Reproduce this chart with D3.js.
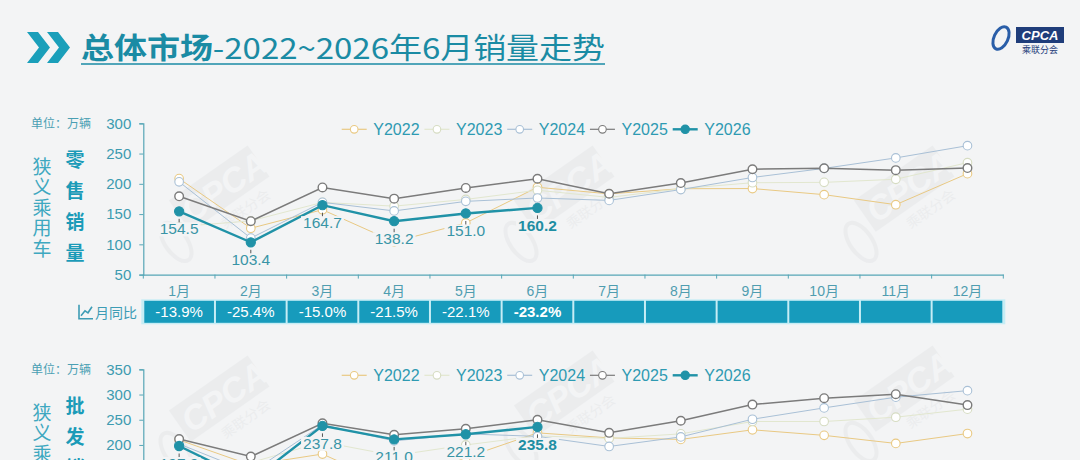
<!DOCTYPE html>
<html>
<head>
<meta charset="utf-8">
<script src="https://cdn.jsdelivr.net/npm/d3@7"></script>
<style>
  body { margin: 0; background: #f3f4f5; }
  svg { display: block; }
</style>
</head>
<body>
<script>
// ---- data ----
var months = ['1月', '2月', '3月', '4月', '5月', '6月', '7月', '8月', '9月', '10月', '11月', '12月'];
var years = ['Y2022', 'Y2023', 'Y2024', 'Y2025', 'Y2026'];

// 零售 (retail), 万辆
var retail2022 = [208.6, 126.6, 157.2, 104.2, 135.4, 194.3, 183.4, 191.9, 192.2, 182.1, 165.5, 216.8];
var retail2023 = [129.3, 138.8, 169.3, 163.1, 174.2, 189.4, 177.5, 192.0, 201.8, 202.4, 207.5, 235.0];
var retail2024 = [203.3, 110.3, 169.4, 155.2, 171.0, 176.6, 172.6, 190.5, 210.5, 225.5, 242.8, 263.0];
var retail2025 = [179.4, 138.3, 194.0, 175.5, 193.2, 208.4, 183.6, 201.3, 224.1, 225.6, 222.6, 226.0];
var retail2026 = [154.5, 103.4, 164.7, 138.2, 151.0, 160.2];
var retailYoY = ['-13.9%', '-25.4%', '-15.0%', '-21.5%', '-22.1%', '-23.2%', '', '', '', '', '', ''];
var retailTicks = [50, 100, 150, 200, 250, 300];

// 批发 (wholesale), 万辆
var whole2022 = [210.0, 160.0, 182.0, 118.0, 175.0, 224.0, 214.0, 211.0, 230.0, 219.0, 203.0, 222.6];
var whole2023 = [147.0, 165.0, 206.0, 179.0, 200.0, 218.0, 213.0, 222.0, 246.5, 246.5, 255.0, 271.0];
var whole2024 = [202.0, 145.0, 240.0, 208.0, 222.0, 217.0, 197.0, 216.0, 251.0, 273.5, 294.7, 307.7];
var whole2025 = [211.7, 177.0, 243.0, 220.0, 232.0, 249.8, 224.0, 248.0, 280.0, 292.7, 300.6, 279.0];
var whole2026 = [197.9, 128.5, 237.8, 211.0, 221.2, 235.8];
var wholeTicks = [50, 100, 150, 200, 250, 300, 350];

// ---- style ----
var BG = '#f3f4f5';
var NUM_FONT = "'Liberation Sans Narrow','Liberation Sans','Noto Sans CJK SC',sans-serif";
var CJK_FONT = "'Noto Sans CJK SC','Liberation Sans',sans-serif";
var colors = ['#e9c983', '#e2e7cf', '#a9c0d6', '#7b7b7b', '#2092a7'];
var widths = [1, 1, 1, 1.5, 2.4];

var svg = d3.select('body').append('svg').attr('width', 1080).attr('height', 460);
svg.append('rect').attr('width', 1080).attr('height', 460).attr('fill', BG);

// faint watermarks
function watermark(cx, cy) {
  var w = svg.append('g')
    .attr('transform', 'translate(' + cx + ',' + cy + ') rotate(-35)')
    .attr('opacity', 0.07);
  w.append('rect').attr('x', -38).attr('y', -26).attr('width', 96).attr('height', 38)
    .attr('fill', '#8a9096');
  w.append('ellipse').attr('cx', -56).attr('cy', 12).attr('rx', 11).attr('ry', 22)
    .attr('fill', 'none').attr('stroke', '#8a9096').attr('stroke-width', 4);
  w.append('text').attr('x', -33).attr('y', 6).text('CPCA')
    .attr('font-family', NUM_FONT).attr('font-size', 34).attr('font-weight', 'bold')
    .attr('font-style', 'italic').attr('fill', '#fff');
  w.append('text').attr('x', -8).attr('y', 30).text('乘联分会')
    .attr('font-family', CJK_FONT).attr('font-size', 14).attr('fill', '#8a9096');
}
[[215, 200], [560, 200], [900, 200], [215, 410], [560, 405], [900, 400]].forEach(function(p) {
  watermark(p[0], p[1]);
});

// ---- title ----
var head = svg.append('g');
head.append('path').attr('d', 'M27,32 L38,32 L50,47.5 L38,63 L27,63 L39,47.5 Z').attr('fill', '#1a9fba');
head.append('path').attr('d', 'M47,32 L58,32 L70,47.5 L58,63 L47,63 L59,47.5 Z').attr('fill', '#1a9fba');
var title = head.append('text').attr('x', 81).attr('y', 58.5)
  .attr('font-family', CJK_FONT).attr('font-size', 29).attr('fill', '#1a8ba4')
  .attr('textLength', 524).attr('lengthAdjust', 'spacingAndGlyphs');
title.append('tspan').attr('font-weight', 'bold').text('总体市场');
title.append('tspan').text('-2022~2026年6月销量走势');
head.append('line').attr('x1', 81).attr('x2', 605).attr('y1', 64).attr('y2', 64)
  .attr('stroke', '#1a8ba4').attr('stroke-width', 1.6);

// logo
var logo = svg.append('g');
logo.append('ellipse').attr('cx', 1001).attr('cy', 38).attr('rx', 7).attr('ry', 12)
  .attr('transform', 'rotate(25,1001,38)').attr('fill', 'none').attr('stroke', '#2a5ea8').attr('stroke-width', 3);
logo.append('rect').attr('x', 1016).attr('y', 27).attr('width', 48).attr('height', 16).attr('fill', '#1f3d7a');
logo.append('text').attr('x', 1040).attr('y', 40).attr('text-anchor', 'middle').text('CPCA')
  .attr('font-family', NUM_FONT).attr('font-size', 13).attr('font-weight', 'bold')
  .attr('font-style', 'italic').attr('fill', '#fff');
logo.append('text').attr('x', 1040).attr('y', 53).attr('text-anchor', 'middle').text('乘联分会')
  .attr('font-family', CJK_FONT).attr('font-size', 9).attr('fill', '#1f3d7a');

// ---- one panel ----
function drawPanel(top, opt) {
  var g = svg.append('g');
  var x = d3.scaleBand().domain(months).range([143.3, 1003.3]);
  var y = d3.scaleLinear().domain([opt.ticks[0], opt.ticks[opt.ticks.length - 1]])
    .range([top + 151.3, top]);
  var cx = function(i) { return x(months[i]) + x.bandwidth() / 2; };

  g.append('text').attr('x', 31).attr('y', top + 4.5).text('单位：万辆')
    .attr('font-family', CJK_FONT).attr('font-size', 12).attr('fill', '#4a9fb3');

  // vertical captions
  g.append('text').attr('x', 42).attr('y', top + 33.5).text(opt.side)
    .style('writing-mode', 'vertical-rl').attr('letter-spacing', 1.6)
    .attr('font-family', CJK_FONT).attr('font-size', 19).attr('fill', '#3ea8c0');
  g.append('text').attr('x', 75).attr('y', top + 26.5).text(opt.name)
    .style('writing-mode', 'vertical-rl').attr('letter-spacing', 12)
    .attr('font-family', CJK_FONT).attr('font-size', 19).attr('font-weight', 'bold')
    .attr('fill', '#1b9bb8');

  // axes
  var ya = g.append('g').attr('transform', 'translate(143.3,0)')
    .call(d3.axisLeft(y).tickValues(opt.ticks).tickSize(4).tickPadding(8));
  var xa = g.append('g').attr('transform', 'translate(0,' + (top + 151.3) + ')')
    .call(d3.axisBottom(x).tickSize(0).tickPadding(11));
  [ya, xa].forEach(function(a) {
    a.select('.domain').attr('stroke', '#56a6b6').attr('stroke-width', 1.2);
    a.selectAll('line').attr('stroke', '#56a6b6');
    a.selectAll('text').attr('font-family', NUM_FONT).attr('fill', '#3d9bb0');
  });
  ya.selectAll('text').attr('font-size', 15);
  xa.selectAll('text').attr('font-size', 14).attr('fill', '#4f9db0');
  // band boundary ticks
  g.selectAll('.bt').data(months.concat([null])).enter().append('line')
    .attr('x1', function(d, i) { return x.range()[0] + i * x.step(); })
    .attr('x2', function(d, i) { return x.range()[0] + i * x.step(); })
    .attr('y1', top + 151.3).attr('y2', top + 155.3)
    .attr('stroke', '#56a6b6');

  // series
  opt.series.forEach(function(vals, k) {
    var line = d3.line().x(function(d, i) { return cx(i); }).y(function(d) { return y(d); });
    g.append('path').datum(vals).attr('d', line).attr('fill', 'none')
      .attr('stroke', colors[k]).attr('stroke-width', widths[k]);
    g.selectAll('.p' + k).data(vals).enter().append('circle')
      .attr('cx', function(d, i) { return cx(i); })
      .attr('cy', function(d) { return y(d); })
      .attr('r', k === 4 ? 4.6 : 4.3)
      .attr('fill', k === 4 ? colors[k] : '#fff')
      .attr('stroke', k === 4 ? colors[k] : (k === 1 ? '#d6dcc2' : colors[k]))
      .attr('stroke-width', k === 3 ? 1.4 : 1.1);
  });

  // labels of the current year
  var cur = opt.series[4];
  cur.forEach(function(v, i) {
    var px = cx(i), py = y(v);
    var last = i === cur.length - 1;
    var t = g.append('text').attr('x', px).attr('y', py + 23).attr('text-anchor', 'middle')
      .text(v.toFixed(1)).attr('font-family', NUM_FONT).attr('font-size', 15.5)
      .attr('font-weight', last ? 'bold' : 'normal')
      .attr('fill', last ? '#1f8ea3' : '#3994a6');
    var w = t.node().getComputedTextLength();
    g.insert('rect', function() { return t.node(); })
      .attr('x', px - w / 2 - 2).attr('y', py + 11).attr('width', w + 4).attr('height', 14)
      .attr('fill', BG);
    g.append('line').attr('x1', px).attr('x2', px).attr('y1', py + 7.5).attr('y2', py + 11)
      .attr('stroke', '#555').attr('stroke-width', 1);
  });

  // legend
  years.forEach(function(name, k) {
    var lx = 341.7 + k * 82.75, ly = top + 6;
    g.append('line').attr('x1', lx).attr('x2', lx + 25).attr('y1', ly).attr('y2', ly)
      .attr('stroke', colors[k]).attr('stroke-width', k === 4 ? 2.4 : 1.2);
    g.append('circle').attr('cx', lx + 12.5).attr('cy', ly).attr('r', k === 4 ? 4.2 : 3.8)
      .attr('fill', k === 4 ? colors[k] : '#fff')
      .attr('stroke', k === 1 ? '#d6dcc2' : colors[k]).attr('stroke-width', 1.1);
    g.append('text').attr('x', lx + 31.6).attr('y', ly).attr('dominant-baseline', 'central')
      .text(name).attr('font-family', NUM_FONT).attr('font-size', 16).attr('fill', '#2e9ab2');
  });

  // year-on-year row
  if (opt.yoy) {
    var ry = top + 177.5;
    g.append('rect').attr('x', 141.3).attr('y', ry - 1.5).attr('width', 864).attr('height', 25)
      .attr('fill', '#c6edf5');
    g.selectAll('.cell').data(opt.yoy).enter().append('rect')
      .attr('x', function(d, i) { return x(months[i]) + 1; })
      .attr('y', ry).attr('width', x.bandwidth() - 2).attr('height', 22)
      .attr('fill', '#179bbc');
    g.selectAll('.ct').data(opt.yoy).enter().append('text')
      .attr('x', function(d, i) { return cx(i); }).attr('y', ry + 11)
      .attr('text-anchor', 'middle').attr('dominant-baseline', 'central')
      .text(function(d) { return d; })
      .attr('font-family', NUM_FONT).attr('font-size', 15).attr('fill', '#fff')
      .attr('font-weight', function(d, i) { return i === 5 ? 'bold' : 'normal'; });
    // trend icon + caption
    var ic = g.append('g').attr('fill', 'none').attr('stroke', '#3d9cb5').attr('stroke-width', 1.6);
    ic.append('path').attr('d', 'M79,' + (ry + 4) + ' V' + (ry + 18) + ' H93');
    ic.append('path').attr('d', 'M81,' + (ry + 15) + ' L85,' + (ry + 10) + ' L88,' + (ry + 12) + ' L92,' + (ry + 6));
    g.append('text').attr('x', 95).attr('y', ry + 11).attr('dominant-baseline', 'central')
      .text('月同比').attr('font-family', CJK_FONT).attr('font-size', 14).attr('fill', '#3d9cb5');
  }
}

drawPanel(123.3, {
  side: '狭义乘用车', name: '零售销量', ticks: retailTicks,
  series: [retail2022, retail2023, retail2024, retail2025, retail2026], yoy: retailYoY
});
drawPanel(369.3, {
  side: '狭义乘用车', name: '批发销量', ticks: wholeTicks,
  series: [whole2022, whole2023, whole2024, whole2025, whole2026], yoy: null
});
</script>
</body>
</html>
